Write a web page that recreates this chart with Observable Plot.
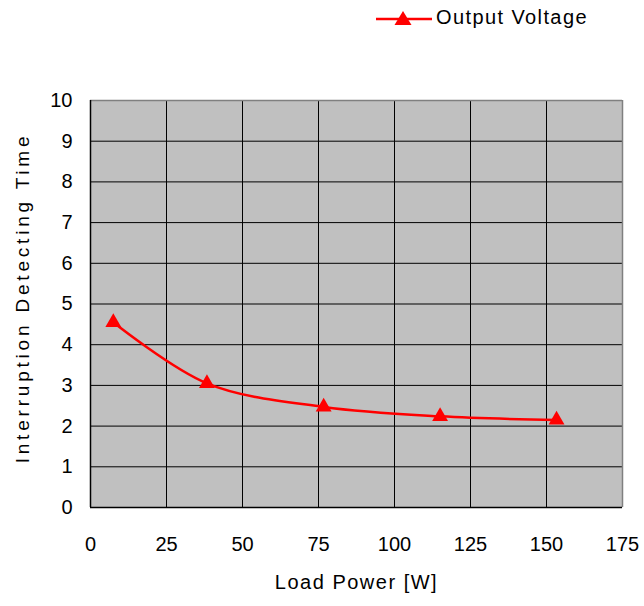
<!DOCTYPE html>
<html>
<head>
<meta charset="utf-8">
<script src="https://cdn.jsdelivr.net/npm/d3@7"></script>
<script src="https://cdn.jsdelivr.net/npm/@observablehq/plot@0.6"></script>
<style>
  html, body { margin: 0; padding: 0; background: #fff; }
  #legend { position: relative; width: 644px; height: 40px; font-family: "Liberation Sans", Arial, sans-serif; }
  #legend svg { position: absolute; left: 376px; top: 8px; }
  #legend span { position: absolute; left: 436px; top: 6px; font-size: 20px; letter-spacing: 1.4px; color: #000; }
</style>
</head>
<body>
<div id="legend"></div>
<div id="chart"></div>
<script>
const seriesName = "Output Voltage";
const loadPower = [7.5, 38.3, 76.7, 115, 153.3];
const detectTime = [4.55, 3.05, 2.47, 2.24, 2.15];
const xTicks = [0, 25, 50, 75, 100, 125, 150, 175];
const yTicks = [0, 1, 2, 3, 4, 5, 6, 7, 8, 9, 10];
const xLabel = "Load Power [W]";
const yLabel = "Interruption Detecting Time";

const data = loadPower.map((x, i) => ({x, y: detectTime[i]}));

// legend
const leg = document.getElementById("legend");
leg.innerHTML = `<svg width="58" height="22"><line x1="0" y1="11" x2="56" y2="11" stroke="#ff0000" stroke-width="2.5"/><path d="M27,3 L35.5,17 L18.5,17 Z" fill="#ff0000"/></svg><span>${seriesName}</span>`;

const chart = Plot.plot({
  width: 644,
  height: 566,
  marginLeft: 90,
  marginRight: 22,
  marginTop: 60,
  marginBottom: 99,
  style: {fontFamily: "'Liberation Sans', Arial, sans-serif", fontSize: "20px", background: "#fff", color: "#000"},
  x: {domain: [0, 175]},
  y: {domain: [0, 10]},
  marks: [
    Plot.frame({fill: "#c0c0c0", stroke: null}),
    Plot.gridX(xTicks.slice(1, -1), {stroke: "#000", strokeOpacity: 1, strokeWidth: 1}),
    Plot.gridY(yTicks.slice(1, -1), {stroke: "#000", strokeOpacity: 1, strokeWidth: 1}),
    Plot.ruleY([10], {stroke: "#808080", strokeWidth: 1.5}),
    Plot.ruleX([175], {stroke: "#808080", strokeWidth: 1.5}),
    Plot.ruleY([0], {stroke: "#000", strokeWidth: 1.5}),
    Plot.ruleX([0], {stroke: "#000", strokeWidth: 1.5}),
    Plot.axisX(xTicks, {tickSize: 0, tickPadding: 29, label: null, fontSize: 20}),
    Plot.axisY(yTicks, {tickSize: 0, tickPadding: 18, label: null, fontSize: 20}),
    Plot.line(data, {x: "x", y: "y", stroke: "#ff0000", strokeWidth: 2.5, curve: "catmull-rom"}),
    Plot.dot(data, {x: "x", y: "y", symbol: "triangle", r: 5.9, fill: "#ff0000", stroke: null}),
    Plot.text([xLabel], {frameAnchor: "bottom", dy: 81, text: d => d, fontSize: 20, className: "xlab"}),
    Plot.text([yLabel], {frameAnchor: "left", textAnchor: "middle", dx: -68, dy: -6, rotate: -90, text: d => d, fontSize: 19, className: "ylab"})
  ]
});
d3.select(chart).selectAll(".ylab text").attr("letter-spacing", "3.8px");
d3.select(chart).selectAll(".xlab text").attr("letter-spacing", "1.5px");
document.getElementById("chart").appendChild(chart);
</script>
</body>
</html>
